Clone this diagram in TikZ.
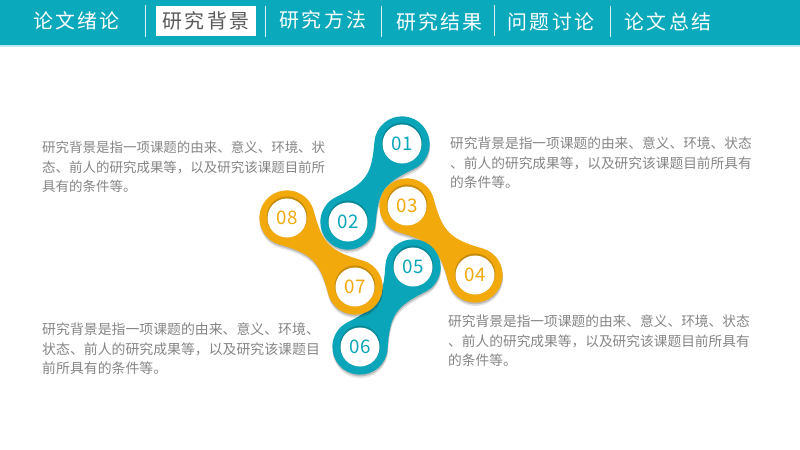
\documentclass[tikz,border=0pt]{standalone}
\usepackage{fontspec}
\usetikzlibrary{calc,shadows,backgrounds}
\newfontfamily\cnfont{Noto Sans CJK SC}
\newfontfamily\navfont[LetterSpace=11]{Noto Sans CJK SC}
\definecolor{barteal}{HTML}{0AA9BC}
\definecolor{blobteal}{HTML}{0AA5B9}
\definecolor{bloborange}{HTML}{F1A90B}
\definecolor{bodygrey}{HTML}{858585}
\tikzset{
  navtext/.style={font=\navfont\fontsize{17}{20}\selectfont, text=white, inner sep=0pt},
  navline/.style={white!85!barteal, line width=0.6pt},
  bodytext/.style={font=\cnfont\fontsize{#1}{16.6}\selectfont, text=bodygrey, align=left, anchor=west, inner sep=0pt},
  numcirc/.style={circle, fill=white, minimum size=1.17cm, inner sep=0pt, font=\cnfont\fontsize{16}{18}\selectfont, drop shadow={shadow xshift=0pt, shadow yshift=1pt, opacity=.18, fill=black, shadow scale=1.04}},
  tealnum/.style={numcirc, text=blobteal},
  orangenum/.style={numcirc, text=bloborange},
}
% one dumbbell shape from circle to circle
\newcommand{\dumbbell}[3]{
  \begin{scope}[on background layer]
    \fill[#3, drop shadow={shadow xshift=0.3pt, shadow yshift=-3pt, opacity=.1, fill=black},
      drop shadow={shadow xshift=0.3pt, shadow yshift=-1.5pt, opacity=.18, fill=black}]
      let \p1=($(#2)-(#1)$), \n1={atan2(\y1,\x1)} in
      ($(#1)+(\n1+60:0.83cm)$) .. controls +(\n1-30:1cm) and +(\n1+210:1cm) .. ($(#2)+(\n1+120:0.83cm)$)
      arc[start angle=\n1+120, delta angle=-240, radius=0.83cm]
      .. controls +(\n1+150:1cm) and +(\n1+30:1cm) .. ($(#1)+(\n1-60:0.83cm)$)
      arc[start angle=\n1-60, delta angle=-240, radius=0.83cm] -- cycle;
  \end{scope}
}
\begin{document}
\begin{tikzpicture}[x=0.03cm,y=-0.03cm]
    \useasboundingbox (0,0) rectangle (800,450);

    % Draw the top bar
    \fill[barteal!25!white] (0,45) rectangle (800,47);
    \fill[barteal] (0,0) rectangle (800,45);
    \fill[white] (156,6) rectangle (256,36);

    % Labels in the top bar
    \node[navtext] (nav1) at (76.5,21) {论文绪论};
    \node[navtext, text=black!65] (nav2) at (206,21) {研究背景};
    \node[navtext] (nav3) at (323,20) {研究方法};
    \node[navtext] (nav4) at (439.5,22) {研究结果};
    \node[navtext] (nav5) at (551,22) {问题讨论};
    \node[navtext] (nav6) at (668,22) {论文总结};

    % Separators in the top bar
    \draw[navline] (145,5) -- (145,37);
    \draw[navline] (265,6) -- (265,37);
    \draw[navline] (381,6) -- (381,37);
    \draw[navline] (494,5) -- (494,36);
    \draw[navline] (610,6) -- (610,37);

    % Numbered circles
    \node[tealnum] (n01) at (402,144) {01};
    \node[tealnum] (n02) at (348,222) {02};
    \node[orangenum] (n03) at (407,206) {03};
    \node[orangenum] (n04) at (475,275) {04};
    \node[tealnum] (n05) at (413,267) {05};
    \node[tealnum] (n06) at (360,347) {06};
    \node[orangenum] (n07) at (355,287) {07};
    \node[orangenum] (n08) at (287,218) {08};

    % Draw the dumbbells behind the circles
    \dumbbell{n01.center}{n02.center}{blobteal}
    \dumbbell{n03.center}{n04.center}{bloborange}
    \dumbbell{n05.center}{n06.center}{blobteal}
    \dumbbell{n08.center}{n07.center}{bloborange}

    % Paragraphs
    \node[bodytext=11.5] (txt1) at (42,167) {研究背景是指一项课题的由来、意义、环境、状\\态、前人的研究成果等，以及研究该课题目前所\\具有的条件等。};
    \node[bodytext=11.7] (txt2) at (450,163) {研究背景是指一项课题的由来、意义、环境、状态\\、前人的研究成果等，以及研究该课题目前所具有\\的条件等。};
    \node[bodytext=11.85] (txt3) at (42,349) {研究背景是指一项课题的由来、意义、环境、\\状态、前人的研究成果等，以及研究该课题目\\前所具有的条件等。};
    \node[bodytext=11.7] (txt4) at (448,341) {研究背景是指一项课题的由来、意义、环境、状态\\、前人的研究成果等，以及研究该课题目前所具有\\的条件等。};
\end{tikzpicture}
\end{document}
